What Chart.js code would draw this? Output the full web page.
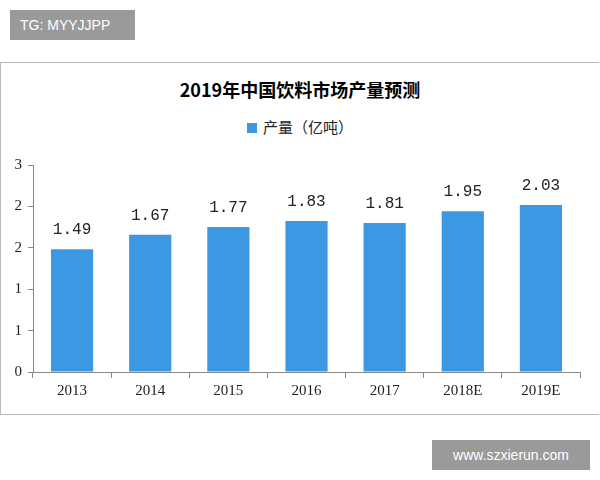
<!DOCTYPE html>
<html><head><meta charset="utf-8">
<script src="https://cdn.jsdelivr.net/npm/chart.js@4"></script>
<style>
body{margin:0;width:600px;height:480px;background:#fff;position:relative;overflow:hidden;font-family:"Liberation Serif",serif}
#frame{position:absolute;left:0;top:62px;width:598px;height:351px;border:1px solid #bbb;border-right:none}
#tg{position:absolute;left:10px;top:10px;width:125px;height:30px;background:#9a9a9a;color:#fff;font:14px "Liberation Sans",sans-serif;line-height:30px;text-indent:10px}
#www{position:absolute;left:432px;top:440px;width:158px;height:30px;background:#9a9a9a;color:#fff;font:14px "Liberation Sans",sans-serif;line-height:30px;text-align:center}
#title{position:absolute;left:0;width:600px;top:76px;text-align:center;font:bold 18px "Noto Sans CJK SC",serif}
#legend{position:absolute;left:0;width:600px;top:116px;text-align:center;font:15px "Noto Sans CJK SC",sans-serif;color:#222}
#legend span{display:inline-block;width:10px;height:10px;background:#3d98e3;margin-right:6px}
canvas{position:absolute;left:0;top:0}
</style></head><body>
<div id="tg">TG: MYYJJPP</div>
<div id="frame"></div>
<div id="title">2019年中国饮料市场产量预测</div>
<div id="legend"><span></span>产量（亿吨）</div>
<div id="www">www.szxierun.com</div>
<div style="position:absolute;left:0;top:0;width:600px;height:480px"><canvas id="c" width="600" height="480"></canvas></div>
<script>
const categories=["2013","2014","2015","2016","2017","2018E","2019E"];
const barHeights=[1.78,1.99,2.10,2.19,2.16,2.33,2.42];
const valueLabels=["1.49","1.67","1.77","1.83","1.81","1.95","2.03"];
const tickValues=[0,0.6,1.2,1.8,2.4,3.0];
const tickLabels=["0","1","1","2","2","3"];
const labelPlugin={id:"lbl",afterDatasetsDraw(ch){const ctx=ch.ctx;const m=ch.getDatasetMeta(0);ctx.save();ctx.font='16px "Liberation Mono",monospace';ctx.fillStyle="#222";ctx.textAlign="center";ctx.textBaseline="bottom";m.data.forEach((b,i)=>ctx.fillText(valueLabels[i],b.x,b.y-11));ctx.restore();}};
new Chart(document.getElementById("c"),{type:"bar",
data:{labels:categories,datasets:[{label:"产量（亿吨）",data:barHeights,backgroundColor:"#3d98e3",categoryPercentage:1,barPercentage:0.54}]},
options:{responsive:false,animation:false,layout:{padding:{left:0,right:20,top:165,bottom:76}},
plugins:{legend:{display:false},title:{display:false},tooltip:{enabled:false}},
scales:{x:{grid:{display:true,drawOnChartArea:false,offset:true,color:"#888",tickLength:6},border:{color:"#888"},ticks:{color:"#222",font:{family:"Liberation Serif",size:15},padding:4}},
y:{min:0,max:3,afterFit(s){s.width=33;},afterBuildTicks(s){s.ticks=tickValues.map(v=>({value:v}));},grid:{drawOnChartArea:false,color:"#888",tickLength:5},border:{color:"#888"},ticks:{color:"#222",font:{family:"Liberation Serif",size:15},padding:6,callback:(v,i)=>tickLabels[i]}}}},
plugins:[labelPlugin]});
</script></body></html>
